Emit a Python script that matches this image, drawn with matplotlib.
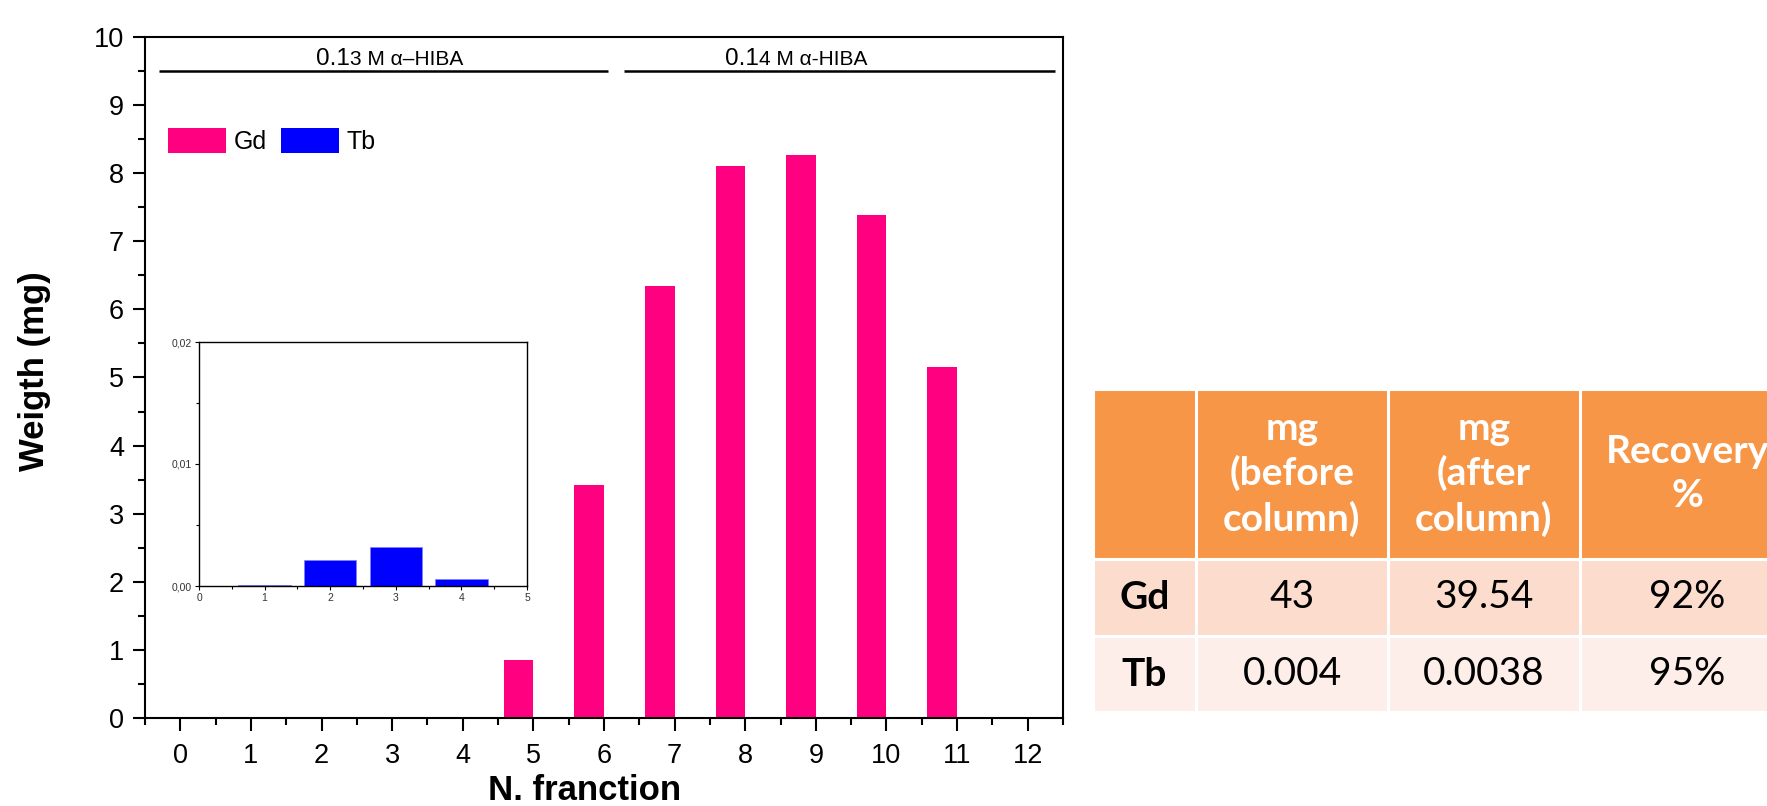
import matplotlib
matplotlib.use("Agg")
import matplotlib.pyplot as plt
import numpy as np
from matplotlib.ticker import FixedLocator, FuncFormatter, MultipleLocator

plt.rcParams["font.family"] = ["Liberation Sans", "DejaVu Sans"]

# data
fractions = np.arange(0, 13)
gd_mg = [0, 0, 0, 0, 0, 0.85, 3.42, 6.35, 8.11, 8.27, 7.38, 5.15, 0]
tb_fractions = [1, 2, 3, 4]
tb_mg = [0.0001, 0.0021, 0.0032, 0.00055]

# eluent bands: (start, end, label prefix, label rest)
band_starts = [-0.3, 6.29]
band_ends = [6.06, 12.38]
band_big = ["0.1", "0.1"]
band_small = ["3 M \u03b1\u2013HIBA", "4 M \u03b1-HIBA"]
band_split = [2.4, 8.2]

table_header = ["", "mg\n(before\ncolumn)", "mg\n(after\ncolumn)", "Recovery\n%"]
table_rows = [
    ["Gd", "43", "39.54", "92%"],
    ["Tb", "0.004", "0.0038", "95%"],
]

GD_COLOR = "#FF0080"
TB_COLOR = "#0000FF"

W, H = 1767, 806
fig = plt.figure(figsize=(W / 100, H / 100), dpi=100)

# main chart
ax = fig.add_axes([145 / W, (H - 718) / H, 918 / W, 681 / H])
bw = 0.42
ax.bar(fractions - bw / 2, gd_mg, width=bw, color=GD_COLOR, label="Gd")
ax.bar(np.array(tb_fractions) + bw / 2, tb_mg, width=bw, color=TB_COLOR, label="Tb")

ax.set_xlim(-0.5, 12.5)
ax.set_ylim(0, 10)
ax.xaxis.set_major_locator(MultipleLocator(1))
ax.xaxis.set_minor_locator(FixedLocator(np.arange(-0.5, 13, 1)))
ax.yaxis.set_major_locator(MultipleLocator(1))
ax.yaxis.set_minor_locator(MultipleLocator(0.5))
for s in ax.spines.values():
    s.set_linewidth(1.5)
ax.tick_params(which="both", direction="out", width=1.5, top=False, right=False)
ax.tick_params(which="major", length=9, labelsize=19.5)
ax.tick_params(which="minor", length=5)
ax.tick_params(axis="y", pad=6)
ax.tick_params(axis="x", pad=9)

ax.set_ylabel("Weigth (mg)", fontsize=25, fontweight="bold")
ax.yaxis.set_label_coords(-0.102, 0.51)
ax.set_xlabel("N. franction", fontsize=25, fontweight="bold")
ax.xaxis.set_label_coords(0.479, -0.082)

for x0, x1, big, small, xs in zip(band_starts, band_ends, band_big, band_small, band_split):
    ax.plot([x0, x1], [9.5, 9.5], color="black", lw=1.8, solid_capstyle="butt")
    ax.text(xs, 9.59, big, ha="right", va="baseline", fontsize=17.5)
    ax.text(xs, 9.59, small, ha="left", va="baseline", fontsize=15)

ax.legend(
    loc="upper left",
    bbox_to_anchor=(-0.17, 8.66),
    bbox_transform=ax.transData,
    ncol=2,
    frameon=False,
    fontsize=18,
    handlelength=2.3,
    handleheight=1.15,
    handletextpad=0.3,
    columnspacing=0.6,
    borderpad=0,
    borderaxespad=0,
)

# inset with the Tb fractions
ins = fig.add_axes([199 / W, (H - 586) / H, 328 / W, 244 / H])
ins.bar(tb_fractions, tb_mg, width=0.8, color=TB_COLOR, edgecolor="#8080ff", linewidth=0.5)
ins.set_xlim(0, 5)
ins.set_ylim(0, 0.02)
ins.xaxis.set_major_locator(MultipleLocator(1))
ins.xaxis.set_minor_locator(MultipleLocator(0.5))
ins.yaxis.set_major_locator(MultipleLocator(0.01))
ins.yaxis.set_minor_locator(MultipleLocator(0.005))
ins.yaxis.set_major_formatter(FuncFormatter(lambda v, p: f"{v:.2f}".replace(".", ",")))
for s in ins.spines.values():
    s.set_linewidth(1.0)
ins.tick_params(which="both", direction="out", width=0.8, labelsize=7.5, labelcolor="#333333", pad=2)
ins.tick_params(which="major", length=3)
ins.tick_params(which="minor", length=2)

# recovery table, cut at the right edge like the source
col_px = [103, 192, 192, 214]
tax = fig.add_axes([1093 / W, (H - 712) / H, sum(col_px) / W, 323 / H])
tax.axis("off")
tbl = tax.table(
    cellText=table_rows,
    colLabels=table_header,
    cellLoc="center",
    colWidths=col_px,
    bbox=[0, 0, 1, 1],
)
tbl.auto_set_font_size(False)
row_fill = ["#F79646", "#FCDCCD", "#FDEEE9"]
row_h = [168, 77, 75]
for (r, c), cell in tbl.get_celld().items():
    cell.set_facecolor(row_fill[r])
    cell.set_edgecolor("white")
    cell.set_linewidth(2.2)
    cell.set_height(row_h[r])
    txt = cell.get_text()
    txt.set_fontfamily(["Lato", "DejaVu Sans"])
    txt.set_fontsize(28)
    txt.set_linespacing(1.3)
    if r == 0:
        txt.set_color("white")
        txt.set_fontweight("bold")
    elif c == 0:
        txt.set_fontweight("bold")

fig.savefig("out.png", dpi=100)
